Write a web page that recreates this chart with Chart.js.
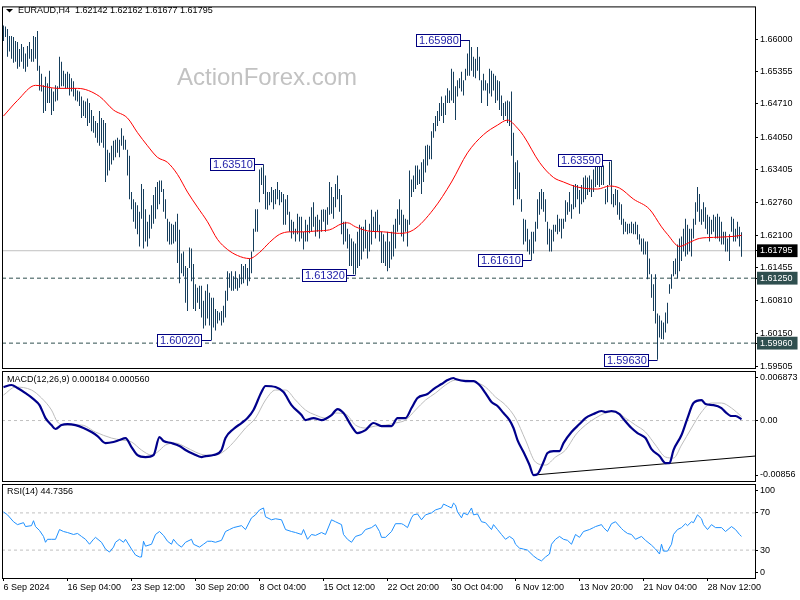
<!DOCTYPE html>
<html>
<head>
<meta charset="utf-8">
<script src="https://cdn.jsdelivr.net/npm/chart.js@4.4.1/dist/chart.umd.min.js"></script>
<style>
html,body{margin:0;padding:0;background:#fff;}
#wrap{position:relative;width:800px;height:600px;overflow:hidden;background:#fff;}
#wrap canvas{position:absolute;left:0;top:0;}
</style>
</head>
<body>
<div id="wrap">
<canvas id="cMain" width="800" height="600"></canvas>
<canvas id="cMacd" width="800" height="600"></canvas>
<canvas id="cRsi" width="800" height="600"></canvas>
</div>
<script>
// ---------------- DATA ----------------
const titleText = 'EURAUD,H4  1.62142 1.62162 1.61677 1.61795';
const macdTitle = 'MACD(12,26,9) 0.000184 0.000560';
const rsiTitle = 'RSI(14) 44.7356';
const watermark = 'ActionForex.com';

const barHigh = [
1.6627,1.6625,1.6620,1.6606,1.6606,1.6604,1.6596,1.6594,1.6580,1.6590,
1.6584,1.6571,1.6586,1.6594,1.6580,1.6606,1.6604,1.6616,1.6547,1.6531,
1.6508,1.6525,1.6512,1.6537,1.6502,1.6496,1.6508,1.6506,1.6565,1.6555,
1.6537,1.6531,1.6535,1.6531,1.6522,1.6516,1.6502,1.6498,1.6496,1.6486,
1.6478,1.6476,1.6482,1.6473,1.6459,1.6447,1.6437,1.6433,1.6457,1.6443,
1.6439,1.6433,1.6380,1.6374,1.6388,1.6398,1.6400,1.6404,1.6400,1.6423,
1.6408,1.6400,1.6380,1.6368,1.6296,1.6282,1.6276,1.6270,1.6257,1.6312,
1.6302,1.6262,1.6237,1.6251,1.6270,1.6290,1.6306,1.6316,1.6319,1.6319,
1.6302,1.6282,1.6243,1.6237,1.6233,1.6231,1.6237,1.6253,1.6221,1.6174,
1.6178,1.6149,1.6145,1.6186,1.6184,1.6153,1.6113,1.6106,1.6110,1.6110,
1.6080,1.6100,1.6113,1.6096,1.6086,1.6086,1.6064,1.6060,1.6057,1.6060,
1.6070,1.6100,1.6139,1.6135,1.6139,1.6129,1.6139,1.6125,1.6133,1.6153,
1.6149,1.6153,1.6145,1.6164,1.6178,1.6223,1.6262,1.6262,1.6341,1.6345,
1.6351,1.6329,1.6296,1.6296,1.6306,1.6300,1.6302,1.6316,1.6300,1.6296,
1.6292,1.6282,1.6290,1.6257,1.6241,1.6237,1.6223,1.6253,1.6247,1.6247,
1.6217,1.6241,1.6231,1.6247,1.6266,1.6276,1.6247,1.6251,1.6241,1.6261,
1.6262,1.6261,1.6266,1.6316,1.6306,1.6286,1.6312,1.6329,1.6302,1.6290,
1.6237,1.6237,1.6223,1.6212,1.6204,1.6198,1.6194,1.6217,1.6231,1.6227,
1.6227,1.6241,1.6217,1.6233,1.6261,1.6247,1.6257,1.6261,1.6231,1.6217,
1.6212,1.6198,1.6217,1.6198,1.6217,1.6231,1.6243,1.6262,1.6282,1.6261,
1.6251,1.6243,1.6241,1.6339,1.6321,1.6329,1.6349,1.6349,1.6341,1.6355,
1.6361,1.6388,1.6390,1.6388,1.6417,1.6433,1.6447,1.6457,1.6473,1.6486,
1.6473,1.6488,1.6502,1.6498,1.6541,1.6535,1.6506,1.6518,1.6522,1.6535,
1.6518,1.6541,1.6571,1.6598,1.6584,1.6565,1.6561,1.6584,1.6565,1.6518,
1.6531,1.6518,1.6512,1.6541,1.6537,1.6531,1.6527,1.6518,1.6516,1.6488,
1.6473,1.6476,1.6478,1.6476,1.6496,1.6414,1.6355,1.6359,1.6335,1.6282,
1.6243,1.6241,1.6223,1.6202,1.6217,1.6217,1.6237,1.6282,1.6296,1.6302,
1.6296,1.6282,1.6237,1.6223,1.6221,1.6231,1.6231,1.6251,1.6243,1.6243,
1.6243,1.6280,1.6276,1.6296,1.6272,1.6310,1.6312,1.6310,1.6300,1.6310,
1.6325,1.6329,1.6325,1.6329,1.6321,1.6341,1.6349,1.6349,1.6355,1.6351,
1.6349,1.6302,1.6310,1.6356,1.6359,1.6292,1.6302,1.6300,1.6276,1.6272,
1.6243,1.6237,1.6233,1.6233,1.6237,1.6233,1.6237,1.6231,1.6212,1.6204,
1.6204,1.6198,1.6198,1.6164,1.6133,1.6113,1.6133,1.6055,1.6051,1.6041,
1.6037,1.6057,1.6076,1.6113,1.6133,1.6159,1.6164,1.6192,1.6204,1.6208,
1.6223,1.6243,1.6231,1.6223,1.6223,1.6243,1.6276,1.6306,1.6292,1.6262,
1.6276,1.6266,1.6251,1.6247,1.6241,1.6251,1.6247,1.6253,1.6247,1.6237,
1.6217,1.6217,1.6204,1.6212,1.6247,1.6243,1.6223,1.6237,1.6227,1.62162
];
const barLow = [
1.6596,1.6604,1.6565,1.6575,1.6561,1.6553,1.6555,1.6541,1.6545,1.6555,
1.6541,1.6535,1.6545,1.6561,1.6555,1.6555,1.6561,1.6537,1.6498,1.6496,
1.6453,1.6457,1.6473,1.6473,1.6449,1.6457,1.6476,1.6478,1.6502,1.6506,
1.6506,1.6502,1.6502,1.6488,1.6496,1.6486,1.6478,1.6476,1.6467,1.6443,
1.6447,1.6443,1.6427,1.6433,1.6417,1.6414,1.6404,1.6394,1.6388,1.6394,
1.6384,1.6316,1.6329,1.6339,1.6351,1.6359,1.6365,1.6374,1.6365,1.6388,
1.6380,1.6380,1.6329,1.6282,1.6262,1.6237,1.6223,1.6212,1.6188,1.6243,
1.6184,1.6198,1.6188,1.6204,1.6223,1.6233,1.6243,1.6262,1.6272,1.6296,
1.6257,1.6243,1.6198,1.6192,1.6192,1.6194,1.6198,1.6155,1.6115,1.6135,
1.6129,1.6076,1.6060,1.6145,1.6119,1.6064,1.6060,1.6076,1.6064,1.6047,
1.6025,1.6031,1.6045,1.6031,1.6002,1.6027,1.6021,1.6035,1.6041,1.6031,
1.6037,1.6047,1.6080,1.6106,1.6100,1.6100,1.6104,1.6100,1.6106,1.6113,
1.6115,1.6123,1.6110,1.6119,1.6135,1.6178,1.6217,1.6217,1.6276,1.6310,
1.6292,1.6262,1.6261,1.6270,1.6276,1.6262,1.6272,1.6282,1.6270,1.6276,
1.6231,1.6231,1.6251,1.6217,1.6204,1.6212,1.6198,1.6212,1.6198,1.6204,
1.6182,1.6198,1.6198,1.6214,1.6217,1.6227,1.6208,1.6217,1.6204,1.6217,
1.6237,1.6217,1.6231,1.6251,1.6253,1.6243,1.6266,1.6282,1.6257,1.6212,
1.6192,1.6198,1.6184,1.6149,1.6149,1.6133,1.6132,1.6145,1.6149,1.6162,
1.6178,1.6184,1.6164,1.6178,1.6192,1.6217,1.6204,1.6217,1.6198,1.6155,
1.6155,1.6149,1.6139,1.6145,1.6162,1.6168,1.6184,1.6217,1.6231,1.6208,
1.6198,1.6217,1.6188,1.6231,1.6286,1.6296,1.6302,1.6310,1.6312,1.6292,
1.6316,1.6335,1.6349,1.6361,1.6361,1.6404,1.6417,1.6427,1.6437,1.6447,
1.6433,1.6449,1.6473,1.6473,1.6478,1.6473,1.6439,1.6486,1.6502,1.6496,
1.6488,1.6518,1.6527,1.6527,1.6537,1.6525,1.6522,1.6537,1.6518,1.6473,
1.6498,1.6498,1.6467,1.6492,1.6486,1.6498,1.6473,1.6478,1.6459,1.6447,
1.6439,1.6447,1.6433,1.6427,1.6368,1.6270,1.6302,1.6282,1.6282,1.6257,
1.6192,1.6198,1.6178,1.6172,1.6161,1.6174,1.6198,1.6223,1.6251,1.6262,
1.6257,1.6237,1.6192,1.6178,1.6178,1.6198,1.6217,1.6212,1.6217,1.6204,
1.6223,1.6237,1.6251,1.6257,1.6243,1.6262,1.6266,1.6282,1.6253,1.6272,
1.6276,1.6282,1.6290,1.6296,1.6286,1.6296,1.6306,1.6310,1.6306,1.6310,
1.6310,1.6272,1.6276,1.6310,1.6272,1.6266,1.6270,1.6251,1.6241,1.6231,
1.6212,1.6217,1.6212,1.6214,1.6214,1.6212,1.6212,1.6202,1.6192,1.6178,
1.6172,1.6172,1.6123,1.6133,1.6086,1.6060,1.6035,1.5963,1.6007,1.6004,
1.6003,1.6017,1.6035,1.6094,1.6104,1.6129,1.6133,1.6125,1.6139,1.6159,
1.6178,1.6168,1.6172,1.6178,1.6168,1.6204,1.6231,1.6257,1.6237,1.6231,
1.6237,1.6223,1.6212,1.6198,1.6212,1.6217,1.6204,1.6204,1.6198,1.6192,
1.6192,1.6178,1.6178,1.6159,1.6217,1.6198,1.6198,1.6204,1.6188,1.61677
];

// moving average (red) read at bar indices
const maIndex = [0,7,16,27,37,48,55,62,67,72,77,82,87,92,97,102,107,112,117,123,128,133,138,143,150,157,163,169,172,176,182,190,198,205,215,224,232,240,247,252,257,260,268,275,280,287,297,303,308,315,323,329,332,338,343,348,355,365,369];
const maValue = [1.6447,1.6478,1.6508,1.6502,1.6502,1.6486,1.6459,1.6443,1.6414,1.6388,1.6365,1.6355,1.6331,1.6296,1.6266,1.6237,1.6202,1.6182,1.6170,1.6164,1.6176,1.6196,1.6212,1.6217,1.6217,1.6219,1.6221,1.6233,1.6235,1.6227,1.6219,1.6217,1.6214,1.6221,1.6262,1.6316,1.6374,1.6410,1.6429,1.6439,1.6423,1.6408,1.6355,1.6325,1.6316,1.6306,1.6302,1.6308,1.6304,1.6282,1.6262,1.6227,1.6212,1.6188,1.6196,1.6204,1.6206,1.6208,1.6210];

// MACD main line (navy) and signal line (silver)
const macdIndex = [0,4,7,11,15,18,21,24,26,29,32,36,40,44,47,51,55,58,61,64,67,71,75,78,80,84,88,91,95,99,101,105,109,111,115,119,122,125,129,131,136,140,144,149,151,155,159,164,167,170,174,177,181,185,189,194,197,201,204,207,212,215,219,222,225,226,231,235,238,241,244,247,250,253,255,257,260,263,265,267,270,272,275,278,280,284,288,291,295,299,301,304,308,310,314,317,321,324,328,331,333,335,339,342,345,349,351,355,359,361,364,366,369];
const macdValue = [0.00474,0.00503,0.00460,0.00389,0.00304,0.00219,0.00035,-0.00064,-0.00120,-0.00064,-0.00050,-0.00064,-0.00106,-0.00163,-0.00219,-0.00319,-0.00304,-0.00276,-0.00248,-0.00375,-0.00489,-0.00517,-0.00489,-0.00234,-0.00290,-0.00319,-0.00361,-0.00418,-0.00474,-0.00517,-0.00503,-0.00489,-0.00418,-0.00248,-0.00120,-0.00035,0.00035,0.00149,0.00404,0.00489,0.00474,0.00404,0.00219,0.00078,0.00007,0.00035,0.00007,0.00078,0.00163,0.00106,-0.00078,-0.00177,-0.00135,-0.00035,-0.00078,-0.00078,0.00035,0.00035,0.00177,0.00319,0.00375,0.00446,0.00517,0.00573,0.00602,0.00588,0.00559,0.00559,0.00503,0.00389,0.00262,0.00205,0.00106,0.00007,-0.00106,-0.00276,-0.00446,-0.00630,-0.00772,-0.00758,-0.00588,-0.00460,-0.00432,-0.00432,-0.00319,-0.00163,-0.00050,0.00035,0.00092,0.00135,0.00120,0.00135,0.00092,0.00021,-0.00106,-0.00177,-0.00248,-0.00404,-0.00503,-0.00602,-0.00602,-0.00418,-0.00205,0.00035,0.00248,0.00290,0.00234,0.00219,0.00177,0.00120,0.00064,0.00064,0.000184];
const signalIndex = [0,6,14,19,24,27,31,39,46,54,59,64,69,74,77,81,86,91,96,101,106,111,116,121,126,131,136,141,146,151,156,161,166,171,176,181,186,191,196,201,206,211,216,221,226,231,236,241,246,251,256,261,266,271,276,281,286,291,296,301,306,311,316,321,326,331,335,339,344,349,354,359,364,369];
const signalValue = [0.00361,0.00474,0.00432,0.00319,0.00149,-0.00021,-0.00064,-0.00064,-0.00163,-0.00248,-0.00276,-0.00304,-0.00418,-0.00489,-0.00446,-0.00347,-0.00319,-0.00375,-0.00446,-0.00489,-0.00489,-0.00418,-0.00276,-0.00106,0.00035,0.00290,0.00432,0.00432,0.00290,0.00149,0.00078,0.00035,0.00106,0.00092,-0.00064,-0.00106,-0.00078,-0.00064,-0.00035,0.00007,0.00149,0.00290,0.00389,0.00503,0.00573,0.00573,0.00545,0.00474,0.00333,0.00219,0.00035,-0.00276,-0.00588,-0.00630,-0.00517,-0.00418,-0.00205,-0.00064,0.00035,0.00106,0.00120,0.00035,-0.00064,-0.00163,-0.00347,-0.00517,-0.00531,-0.00347,-0.00106,0.00120,0.00248,0.00248,0.00177,0.00056];
const macdTrendIndex = [265, 375.75];
const macdTrendValue = [-0.00772, -0.00503];

// RSI(14)
const rsiIndex = [0,2,5,7,10,11,14,15,16,18,20,21,22,24,26,28,30,32,35,37,39,41,43,45,46,49,51,53,55,56,58,60,61,64,66,68,69,70,71,74,76,78,80,82,84,85,87,89,91,94,95,98,100,102,104,106,109,111,113,115,119,121,124,126,128,130,131,134,136,139,141,144,146,149,150,152,154,156,159,161,164,166,169,170,172,174,176,179,181,184,186,188,189,191,194,196,199,200,202,204,205,207,209,211,214,216,219,220,222,224,225,226,227,229,230,232,234,235,237,239,241,244,245,247,249,251,253,255,256,258,260,262,265,267,269,271,273,274,276,278,280,282,284,286,288,290,293,295,296,299,300,302,304,306,309,310,312,314,316,319,321,324,326,328,329,330,332,334,335,337,339,341,342,344,345,347,349,350,352,354,356,359,361,364,366,368,369];
const rsiValue = [
71.1,67.9,60.5,57.4,59.5,55.3,56.3,61.6,55.3,51.1,
44.7,38.4,41.6,41.6,41.6,52.1,50.0,48.9,46.8,47.9,
44.7,41.6,36.3,41.6,43.7,38.4,31.1,27.9,33.2,38.4,
41.6,38.4,41.6,31.1,24.7,22.6,22.6,39.5,34.2,36.3,
46.8,50.0,45.8,39.5,36.3,41.6,36.3,33.2,38.4,41.6,
36.3,33.2,36.3,39.5,39.5,38.4,40.5,50.0,52.1,54.2,
56.3,52.1,64.7,67.9,73.2,75.3,65.8,62.6,63.7,62.6,
52.1,50.0,48.9,46.8,52.1,41.6,46.8,45.8,48.9,46.8,
62.6,60.5,57.4,46.8,41.6,38.4,44.7,46.8,52.1,54.2,
57.4,50.0,43.7,43.7,50.0,58.4,58.4,57.4,54.2,64.7,
67.9,68.9,62.6,67.9,70.0,73.2,75.3,79.5,77.4,75.3,
80.5,78.4,71.1,64.7,70.0,67.9,75.3,67.9,68.9,60.5,
59.5,52.1,57.4,52.1,46.8,41.6,44.7,41.6,36.3,32.1,
31.1,30.0,23.7,20.5,18.4,22.6,25.8,36.3,41.6,44.7,
41.6,40.5,36.3,46.8,43.7,50.0,52.1,54.2,55.3,57.4,
54.2,50.0,58.4,60.5,53.2,51.1,47.9,46.8,41.6,44.7,
40.5,35.3,31.1,25.8,36.3,28.9,28.9,36.3,46.8,52.1,
54.2,58.4,56.3,60.5,59.5,67.9,63.7,57.4,52.1,57.4,
54.2,54.2,50.0,55.3,52.1,46.8,44.7356
];
const rsiLevels = [70, 30];

// price levels
const bidPrice = 1.61795;
const supportLevels = [1.61250, 1.59960];
const priceTickValues = [1.66000,1.65355,1.64710,1.64050,1.63405,1.62760,1.62100,1.61795,1.61455,1.61250,1.60810,1.60150,1.59960,1.59505];

// swing labels
const peakIndex = [233, 130, 176, 104, 264, 304, 327];
const peakPrice = [1.65980, 1.63510, 1.61320, 1.60020, 1.61610, 1.63590, 1.59630];

// time axis
const timeTickIndex = [0,32,64,96,128,160,192,224,256,288,320,352];
const timeTickLabels = ['6 Sep 2024','16 Sep 04:00','23 Sep 12:00','30 Sep 20:00','8 Oct 04:00','15 Oct 12:00','22 Oct 20:00','30 Oct 04:00','6 Nov 12:00','13 Nov 20:00','21 Nov 04:00','28 Nov 12:00'];

const macdAxisMax = 0.006873, macdAxisMin = -0.00856;
const macdTickLabels = ['0.006873', '0.00', '-0.00856'];
const rsiTickLabels = ['100', '70', '30', '0'];

// ---------------- STYLE / LAYOUT ----------------
const FONT = "'Liberation Sans', Arial, sans-serif";
const X_MIN = -0.75, X_MAX = 375.75;
const PRICE_MIN = 1.59466, PRICE_MAX = 1.66628;
const BAR_COLOR = '#163E5C';
const AXIS_W = 45;

const pts = (xs, ys) => xs.map((x, k) => ({x: x, y: ys[k]}));
const hline = (v) => [{x: X_MIN, y: v}, {x: X_MAX, y: v}];

const framePlugin = {
  id: 'frame',
  afterDraw(chart) {
    const {ctx, chartArea: a} = chart;
    ctx.save();
    ctx.strokeStyle = '#000';
    ctx.lineWidth = 1;
    ctx.strokeRect(a.left + 0.5, a.top - 0.5, a.right - a.left, a.bottom - a.top + 1);
    ctx.restore();
  }
};

function yAxisBase(extra) {
  return Object.assign({
    position: 'right',
    bounds: 'data',
    afterFit: s => { s.width = AXIS_W; },
    grid: {drawOnChartArea: false, tickLength: 3, color: '#000', lineWidth: 1},
    border: {display: false}
  }, extra);
}
const hiddenX = {type: 'linear', min: X_MIN, max: X_MAX, offset: false, bounds: 'data', display: false};
const baseOpts = {
  responsive: false, animation: false, events: [], devicePixelRatio: 1,
  plugins: {legend: {display: false}, tooltip: {enabled: false}, title: {display: false}}
};

// ---------------- MAIN PRICE PANEL ----------------
const mainTextPlugin = {
  id: 'mainText',
  beforeDatasetsDraw(chart) {
    const {ctx} = chart;
    ctx.save();
    ctx.font = '24px ' + FONT;
    ctx.fillStyle = '#C2C2C2';
    ctx.textBaseline = 'alphabetic';
    ctx.textAlign = 'left';
    ctx.fillText(watermark, 177, 85);
    ctx.restore();
  },
  afterDatasetsDraw(chart) {
    const {ctx, scales} = chart;
    const xs = scales.x, ys = scales.y;
    ctx.save();
    // swing labels
    ctx.font = '11px ' + FONT;
    ctx.textBaseline = 'middle';
    ctx.textAlign = 'left';
    peakIndex.forEach((idx, k) => {
      const px = xs.getPixelForValue(idx);
      const py = Math.round(ys.getPixelForValue(peakPrice[k])) + 0.5;
      const text = peakPrice[k].toFixed(5);
      const w = Math.ceil(ctx.measureText(text).width) + 4;
      const right = Math.round(px - 10) + 0.5;
      const left = right - w;
      ctx.fillStyle = '#fff';
      ctx.fillRect(left, py - 6, w, 12);
      ctx.strokeStyle = '#000080';
      ctx.lineWidth = 1;
      ctx.strokeRect(left, py - 6, w, 12);
      ctx.beginPath();
      ctx.moveTo(right, py);
      ctx.lineTo(Math.floor(px) + 0.5, py);
      ctx.stroke();
      ctx.fillStyle = '#1E1EA8';
      ctx.fillText(text, left + 2.5, py + 0.5);
    });
    // header
    ctx.font = '9px ' + FONT;
    ctx.fillStyle = '#000';
    ctx.fillText(titleText, 18, 11);
    ctx.beginPath();
    ctx.moveTo(6, 9); ctx.lineTo(13, 9); ctx.lineTo(9.5, 12.5); ctx.closePath();
    ctx.fill();
    ctx.restore();
  }
};

new Chart(document.getElementById('cMain'), {
  type: 'bar',
  data: {
    datasets: [
      {type: 'line', data: pts(maIndex, maValue), borderColor: '#FF0000', borderWidth: 1, pointRadius: 0, cubicInterpolationMode: 'monotone', order: 1},
      {type: 'bar', data: barHigh.map((h, i) => ({x: i, y: [barLow[i], h]})), backgroundColor: BAR_COLOR, borderWidth: 0, barThickness: 1, inflateAmount: 0, order: 2},
      {type: 'line', data: hline(supportLevels[0]), borderColor: '#2F4F4F', borderWidth: 1, borderDash: [4, 3], pointRadius: 0, order: 3},
      {type: 'line', data: hline(supportLevels[1]), borderColor: '#2F4F4F', borderWidth: 1, borderDash: [4, 3], pointRadius: 0, order: 4},
      {type: 'line', data: hline(bidPrice), borderColor: '#C0C0C0', borderWidth: 1, pointRadius: 0, order: 5}
    ]
  },
  options: Object.assign({}, baseOpts, {
    layout: {padding: {left: 2, top: 3, right: 0, bottom: 232}},
    scales: {
      x: hiddenX,
      y: yAxisBase({
        min: PRICE_MIN, max: PRICE_MAX, beginAtZero: false,
        afterBuildTicks: s => { s.ticks = priceTickValues.map(v => ({value: v})); },
        ticks: {
          autoSkip: false, padding: 2,
          font: {family: FONT, size: 9},
          callback: v => v.toFixed(5),
          color: c => (c.tick && (c.tick.value === bidPrice || supportLevels.includes(c.tick.value))) ? '#FFFFFF' : '#000000',
          showLabelBackdrop: c => !!(c.tick && (c.tick.value === bidPrice || supportLevels.includes(c.tick.value))),
          backdropColor: c => (c.tick && c.tick.value === bidPrice) ? '#000000' : '#2F4F4F',
          backdropPadding: {left: 3, right: 5, top: 1, bottom: 1}
        }
      })
    }
  }),
  plugins: [framePlugin, mainTextPlugin]
});

// ---------------- MACD PANEL ----------------
const macdTextPlugin = {
  id: 'macdText',
  afterDatasetsDraw(chart) {
    const {ctx} = chart;
    ctx.save();
    ctx.font = '9px ' + FONT;
    ctx.fillStyle = '#000';
    ctx.textBaseline = 'middle';
    ctx.fillText(macdTitle, 7, 380);
    ctx.restore();
  }
};
new Chart(document.getElementById('cMacd'), {
  type: 'line',
  data: {
    datasets: [
      {data: pts(macdIndex, macdValue), borderColor: '#00008B', borderWidth: 2.2, pointRadius: 0, cubicInterpolationMode: 'monotone', order: 1},
      {data: pts(signalIndex, signalValue), borderColor: '#BDBDBD', borderWidth: 1, pointRadius: 0, cubicInterpolationMode: 'monotone', order: 2},
      {data: pts(macdTrendIndex, macdTrendValue), borderColor: '#000', borderWidth: 1, pointRadius: 0, order: 3},
      {data: hline(0), borderColor: '#C0C0C0', borderWidth: 1, borderDash: [3, 3], pointRadius: 0, order: 4}
    ]
  },
  options: Object.assign({}, baseOpts, {
    layout: {padding: {left: 2, top: 372, right: 0, bottom: 119}},
    scales: {
      x: hiddenX,
      y: yAxisBase({
        min: macdAxisMin, max: macdAxisMax,
        afterBuildTicks: s => {
          const inset = (macdAxisMax - macdAxisMin) * 0.055;
          s.ticks = [{value: macdAxisMax - inset}, {value: 0}, {value: macdAxisMin + inset}];
        },
        ticks: {autoSkip: false, padding: 2, font: {family: FONT, size: 9}, color: '#000', callback: (v, i) => macdTickLabels[i]}
      })
    }
  }),
  plugins: [framePlugin, macdTextPlugin]
});

// ---------------- RSI PANEL ----------------
const rsiTextPlugin = {
  id: 'rsiText',
  afterDatasetsDraw(chart) {
    const {ctx} = chart;
    ctx.save();
    ctx.font = '9px ' + FONT;
    ctx.fillStyle = '#000';
    ctx.textBaseline = 'middle';
    ctx.fillText(rsiTitle, 7, 492);
    ctx.restore();
  }
};
new Chart(document.getElementById('cRsi'), {
  type: 'line',
  data: {
    datasets: [
      {data: pts(rsiIndex, rsiValue), borderColor: '#1E90FF', borderWidth: 1, pointRadius: 0, order: 1},
      {data: hline(rsiLevels[0]), borderColor: '#C0C0C0', borderWidth: 1, borderDash: [3, 3], pointRadius: 0, order: 2},
      {data: hline(rsiLevels[1]), borderColor: '#C0C0C0', borderWidth: 1, borderDash: [3, 3], pointRadius: 0, order: 3}
    ]
  },
  options: Object.assign({}, baseOpts, {
    layout: {padding: {left: 2, top: 485, right: 0, bottom: 0}},
    scales: {
      x: {
        type: 'linear', min: X_MIN, max: X_MAX, offset: false, bounds: 'data', position: 'bottom',
        afterFit: s => { s.height = 22; },
        afterBuildTicks: s => { s.ticks = timeTickIndex.map(v => ({value: v})); },
        ticks: {autoSkip: false, maxRotation: 0, minRotation: 0, align: 'start', padding: 1,
                font: {family: FONT, size: 9}, color: '#000', callback: (v, i) => timeTickLabels[i]},
        grid: {drawOnChartArea: false, tickLength: 3, color: '#000'},
        border: {display: false}
      },
      y: yAxisBase({
        min: 0, max: 100,
        afterBuildTicks: s => {
          const inset = 6;
          s.ticks = [{value: 100 - inset}, {value: rsiLevels[0]}, {value: rsiLevels[1]}, {value: 0 + inset}];
        },
        ticks: {autoSkip: false, padding: 2, font: {family: FONT, size: 9}, color: '#000', callback: (v, i) => rsiTickLabels[i]}
      })
    }
  }),
  plugins: [framePlugin, rsiTextPlugin]
});
</script>
</body>
</html>
